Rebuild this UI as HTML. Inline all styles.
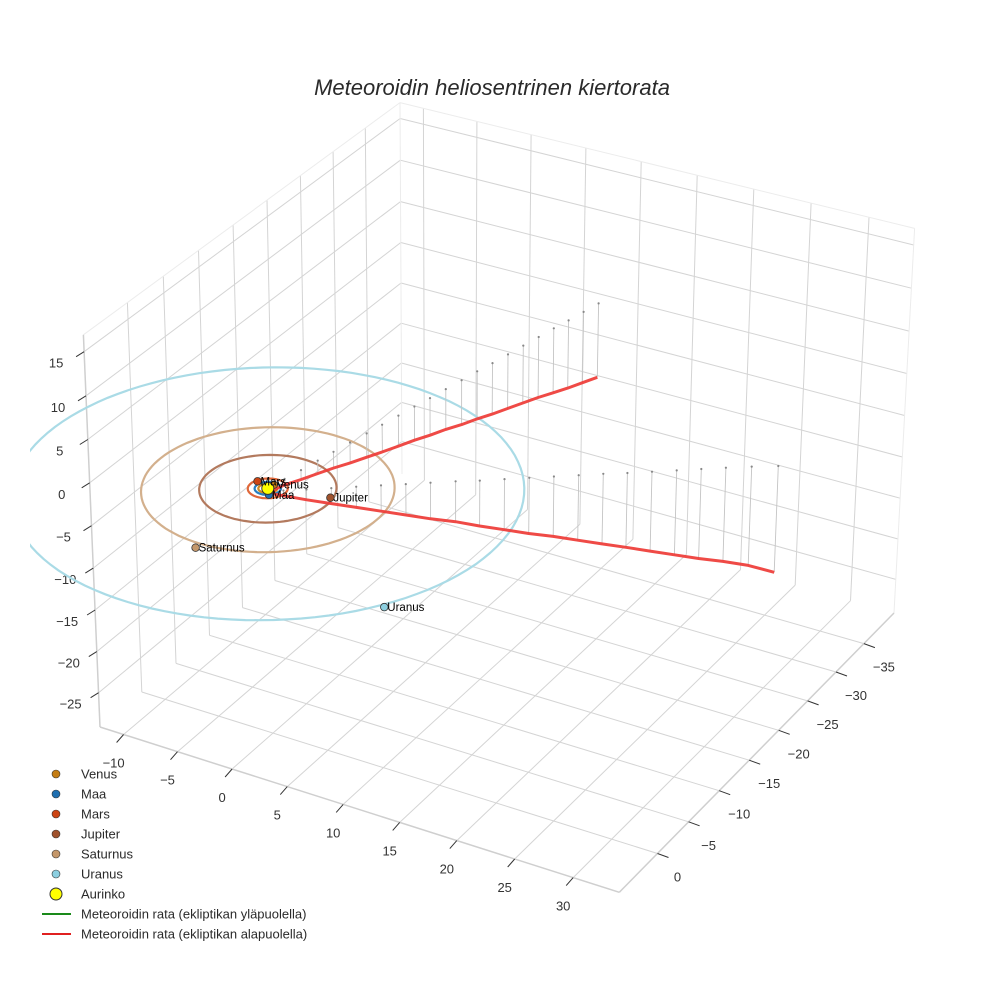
<!DOCTYPE html>
<html><head><meta charset="utf-8">
<style>
body{margin:0;background:#fff;}
svg text{font-family:"Liberation Sans",Arial,sans-serif;}
</style></head>
<body>
<svg id="chart" width="984" height="984" viewBox="0 0 984 984" xmlns="http://www.w3.org/2000/svg">
<rect width="984" height="984" fill="#fff"/>
<defs><clipPath id="sceneclip"><rect x="30" y="0" width="954" height="984"/></clipPath></defs>
<text x="492" y="95" text-anchor="middle" font-size="22" font-style="italic" fill="#2a2a2a">Meteoroidin heliosentrinen kiertorata</text>
<g id="grid"></g>
<g id="axes"></g>
<g id="marks" clip-path="url(#sceneclip)"></g>
<g id="legend"></g>
</svg>
<script>
// ---- data ----
const xTicks = [-10,-5,0,5,10,15,20,25,30];
const yTicks = [-35,-30,-25,-20,-15,-10,-5,0];
const zTicks = [-25,-20,-15,-10,-5,0,5,10,15];
const planetNames = ["Venus","Maa","Mars","Jupiter","Saturnus","Uranus"];
const orbitRadii = [0.72,1.0,1.52,5.2,9.6,19.4];
const planetX = [0.1,0.6,-1.26,4.85,0.06,16.6];
const planetY = [-0.7,0.8,-0.54,-1.13,10.28,10.7];
const planetZ = [0,0,0,0,0,0];
const trajX = [7.2,6.86,6.53,6.16,5.83,5.49,5.16,4.82,4.45,4.12,3.78,3.45,3.08,2.75,2.41,2.08,1.71,1.37,1.04,0.7,0.33,0.2,1.2,2.63,4.15,5.68,7.2,8.73,10.25,11.79,13.32,14.84,16.37,17.89,19.42,20.94,22.47,23.99,25.52,27.04,28.57,30.19,31.9];
const trajY = [-39.0,-37.11,-35.22,-33.45,-31.56,-29.67,-27.78,-25.89,-24.12,-22.23,-20.34,-18.45,-16.67,-14.78,-12.89,-11.1,-9.23,-7.34,-5.55,-3.66,-1.89,0.4,-0.3,-1.31,-2.42,-3.54,-4.65,-5.76,-6.87,-8.0,-9.01,-10.13,-11.24,-12.35,-13.46,-14.57,-15.59,-16.7,-17.81,-18.92,-20.03,-21.15,-22.24];
const trajZ = [-9.0,-8.6,-8.2,-7.8,-7.3,-6.9,-6.5,-6.1,-5.7,-5.3,-4.8,-4.4,-4.0,-3.6,-3.2,-2.8,-2.4,-1.9,-1.5,-1.1,-0.7,-0.2,-0.6,-1.2,-1.8,-2.4,-3.0,-3.6,-4.2,-4.7,-5.3,-5.9,-6.5,-7.0,-7.6,-8.2,-8.7,-9.3,-9.9,-10.5,-11.0,-11.6,-12.5];

// ---- styles / layout ----
const planetColors = ["#c47d14","#1f6fb0","#cc4514","#a0522d","#c4976a","#8ccfe0"];
const orbitColors = ["#d08a20","#2a7fc0","#e0683a","#b37a5e","#d3b08d","#aadbe6"];
const box = {xmin:-12.2,xmax:33.9,ymin:-40.5,ymax:6.0,zmin:-29.2,zmax:16.9};
const cD=[402,474], cF=[894,613], cE=[100,727], cA=[400,102.6], cC=[912,231], cB=[81,335], cG=[619,895];

function mkProj(k1,k2,k3){
  return function(u,v,w){
    const hx = cD[0] + u*((1+k1)*cF[0]-cD[0]) + v*((1+k2)*cE[0]-cD[0]) + w*((1+k3)*cA[0]-cD[0]);
    const hy = cD[1] + u*((1+k1)*cF[1]-cD[1]) + v*((1+k2)*cE[1]-cD[1]) + w*((1+k3)*cA[1]-cD[1]);
    const hw = 1 + u*k1 + v*k2 + w*k3;
    return [hx/hw, hy/hw];
  };
}
function err(f){
  const t=[[1,0,1,cC],[0,1,1,cB],[1,1,0,cG]];
  let e=0; for(const [u,v,w,p] of t){const q=f(u,v,w); e+=(q[0]-p[0])**2+(q[1]-p[1])**2;} return e;
}
let best=[0,0,0], be=1e18;
for(let a=-0.5;a<=0.5;a+=0.02)for(let b=-0.5;b<=0.5;b+=0.02)for(let c=-0.5;c<=0.5;c+=0.02){
  const e=err(mkProj(a,b,c)); if(e<be){be=e;best=[a,b,c];}
}
{const b0=best.slice();
for(let a=b0[0]-0.02;a<=b0[0]+0.02;a+=0.002)for(let b=b0[1]-0.02;b<=b0[1]+0.02;b+=0.002)for(let c=b0[2]-0.02;c<=b0[2]+0.02;c+=0.002){
  const e=err(mkProj(a,b,c)); if(e<be){be=e;best=[a,b,c];}
}}
const P = mkProj(best[0],best[1],best[2]);
function proj(x,y,z){
  return P((x-box.xmin)/(box.xmax-box.xmin),(y-box.ymin)/(box.ymax-box.ymin),(z-box.zmin)/(box.zmax-box.zmin));
}

const NS="http://www.w3.org/2000/svg";
function el(tag,attrs,parent){const e=document.createElementNS(NS,tag);for(const k in attrs)e.setAttribute(k,attrs[k]);parent.appendChild(e);return e;}
function seg(parent,a,b,stroke,w){return el('line',{x1:a[0].toFixed(1),y1:a[1].toFixed(1),x2:b[0].toFixed(1),y2:b[1].toFixed(1),stroke:stroke,'stroke-width':w},parent);}

const grid=document.getElementById('grid'), axes=document.getElementById('axes'), marks=document.getElementById('marks'), legend=document.getElementById('legend');
const GC="#d4d4d4";
xTicks.forEach(t=>{const l=seg(grid,proj(t,box.ymin,box.zmin),proj(t,box.ymax,box.zmin),GC,1);

});
yTicks.forEach(t=>{const l=seg(grid,proj(box.xmin,t,box.zmin),proj(box.xmax,t,box.zmin),GC,1);

});
yTicks.forEach(t=>{const l=seg(grid,proj(box.xmin,t,box.zmin),proj(box.xmin,t,box.zmax),GC,1);

});
zTicks.forEach(t=>{const l=seg(grid,proj(box.xmin,box.ymin,t),proj(box.xmin,box.ymax,t),GC,1);

});
xTicks.forEach(t=>{const l=seg(grid,proj(t,box.ymin,box.zmin),proj(t,box.ymin,box.zmax),GC,1);

});
zTicks.forEach(t=>{const l=seg(grid,proj(box.xmin,box.ymin,t),proj(box.xmax,box.ymin,t),GC,1);

});
const EC="#ececec";
[[[box.xmin,box.ymin,box.zmax],[box.xmin,box.ymax,box.zmax]],[[box.xmin,box.ymin,box.zmax],[box.xmax,box.ymin,box.zmax]],
 [[box.xmax,box.ymin,box.zmax],[box.xmax,box.ymin,box.zmin]],[[box.xmin,box.ymin,box.zmin],[box.xmin,box.ymin,box.zmax]]].forEach(p=>{
 const l=seg(grid,proj(...p[0]),proj(...p[1]),EC,1);
 
 });
const AC="#cfcfcf";
let ax;
ax=seg(axes,proj(box.xmin,box.ymax,box.zmin),proj(box.xmax,box.ymax,box.zmin),AC,1.5);


ax=seg(axes,proj(box.xmax,box.ymin,box.zmin),proj(box.xmax,box.ymax,box.zmin),AC,1.5);


ax=seg(axes,proj(box.xmin,box.ymax,box.zmin),proj(box.xmin,box.ymax,box.zmax),AC,1.5);


function lab(parent,p,txt,name){const t=el('text',{x:p[0].toFixed(1),y:p[1].toFixed(1),'text-anchor':'middle','font-size':13,fill:'#333'},parent);t.textContent=txt;

}
function fmt(v){return v<0?'\u2212'+Math.abs(v):String(v);}
xTicks.forEach(t=>{const p=proj(t,box.ymax,box.zmin);const tk=seg(axes,p,[p[0]-7,p[1]+8],'#333',1);


lab(axes,[p[0]-10,p[1]+33],fmt(t),'x-tick-label');});
yTicks.forEach(t=>{const p=proj(box.xmax,t,box.zmin);const tk=seg(axes,p,[p[0]+11,p[1]+4],'#333',1);


lab(axes,[p[0]+20,p[1]+28],fmt(t),'y-tick-label');});
zTicks.forEach(t=>{const p=proj(box.xmin,box.ymax,t);const tk=seg(axes,p,[p[0]-8,p[1]+5],'#333',1);


lab(axes,[p[0]-28,p[1]+16],fmt(t),'z-tick-label');});

orbitRadii.forEach((r,i)=>{
  let d='';
  for(let a=0;a<=360;a+=3){const rad=a*Math.PI/180;const p=proj(r*Math.cos(rad),r*Math.sin(rad),0);d+=(a?'L':'M')+p[0].toFixed(1)+','+p[1].toFixed(1);}
  const o=el('path',{d:d,fill:'none',stroke:orbitColors[i],'stroke-width':2.2},marks);
  
  
});
for(let i=0;i<trajX.length;i++){
  if(Math.abs(trajZ[i])<0.5) continue;
  const a=proj(trajX[i],trajY[i],trajZ[i]), b=proj(trajX[i],trajY[i],0);
  const l=seg(marks,a,b,'#c4c4c4',0.9);
  
  
  const c=el('circle',{cx:b[0].toFixed(1),cy:b[1].toFixed(1),r:1.1,fill:'#888'},marks);
  
  
}
{let d='';for(let i=0;i<trajX.length;i++){const p=proj(trajX[i],trajY[i],trajZ[i]);d+=(i?'L':'M')+p[0].toFixed(1)+','+p[1].toFixed(1);}
const t=el('path',{d:d,fill:'none',stroke:'#ee3b36','stroke-width':3,'stroke-linejoin':'round','stroke-opacity':0.92},marks);

}
planetNames.forEach((n,i)=>{
  const p=proj(planetX[i],planetY[i],planetZ[i]);
  const c=el('circle',{cx:p[0].toFixed(1),cy:p[1].toFixed(1),r:3.8,fill:planetColors[i],stroke:'#333','stroke-width':0.8},marks);
  
  
});
{const p=proj(0,0,0);const s=el('circle',{cx:p[0].toFixed(1),cy:p[1].toFixed(1),r:6,fill:'#ffff00',stroke:'#333','stroke-width':1},marks);

}
planetNames.forEach((n,i)=>{
  const p=proj(planetX[i],planetY[i],planetZ[i]);
  const t=el('text',{x:(p[0]+3).toFixed(1),y:(p[1]+4).toFixed(1),'font-size':11.5,fill:'#000'},marks);t.textContent=n;
  
  
});

const legNames=["Venus","Maa","Mars","Jupiter","Saturnus","Uranus","Aurinko"];
const legColors=["#c47d14","#1f6fb0","#cc4514","#a0522d","#c4976a","#8ccfe0","#ffff00"];
legNames.forEach((n,i)=>{
  const y=774+i*20;
  const c=el('circle',{cx:56,cy:y,r:i===6?6:4,fill:legColors[i],stroke:'#333','stroke-width':i===6?1:0.6},legend);
  
  
  const t=el('text',{x:81,y:y+4.5,'font-size':13,fill:'#2a2a2a'},legend);t.textContent=n;
  
  
});
[["Meteoroidin rata (ekliptikan yläpuolella)","#1a8a1a"],["Meteoroidin rata (ekliptikan alapuolella)","#e02020"]].forEach((it,j)=>{
  const y=914+j*20;
  const l=el('line',{x1:42,y1:y,x2:71,y2:y,stroke:it[1],'stroke-width':2},legend);
  
  
  const t=el('text',{x:81,y:y+4.5,'font-size':13,fill:'#2a2a2a'},legend);t.textContent=it[0];
  
  
});
</script>
</body></html>
